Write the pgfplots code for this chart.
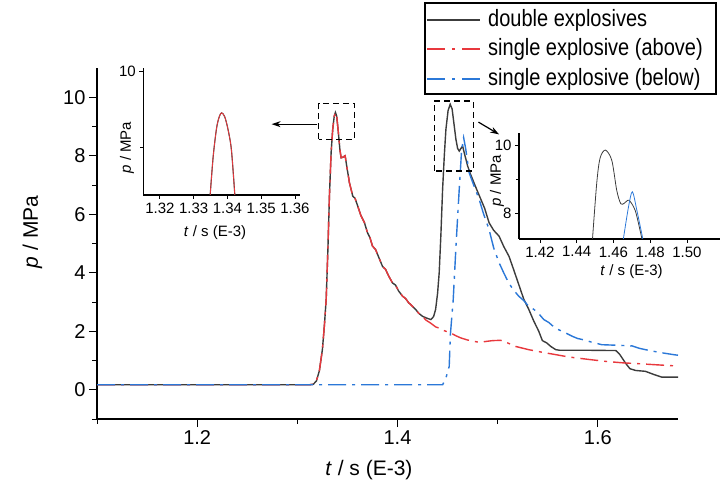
\documentclass[border=0pt]{standalone}
\usepackage{fontspec}
\setmainfont{Liberation Sans}
\usepackage{graphicx}
\usepackage{pgfplots}
\pgfplotsset{compat=1.18}
\usetikzlibrary{arrows.meta}
\definecolor{cblack}{RGB}{60,60,60}
\definecolor{cred}{RGB}{232,56,61}
\definecolor{cblue}{RGB}{43,120,216}
\pgfplotstableread{
x y
1.100 0.17
1.250 0.17
1.312 0.17
1.316 0.19
1.319 0.30
1.322 0.65
1.325 1.37
1.327 2.2
1.3288 3.1
1.3305 4.8
1.332 6.6
1.3337 8.1
1.3353 8.9
1.3368 9.35
1.338 9.48
1.3393 9.35
1.3408 8.85
1.3425 8.2
1.3437 7.93
1.3455 7.95
1.3477 8.0
1.3495 7.6
1.352 7.08
1.3553 6.62
1.3575 6.55
1.3603 6.28
1.3635 5.95
1.367 5.71
1.370 5.37
1.3725 5.2
1.375 4.91
1.378 4.8
1.381 4.55
1.385 4.22
1.388 4.12
1.391 3.9
1.395 3.65
1.398 3.58
1.401 3.38
1.405 3.2
1.408 3.12
1.411 2.98
1.415 2.85
1.418 2.75
1.421 2.62
1.425 2.51
1.429 2.45
1.4333 2.40
1.436 2.5
1.438 2.74
1.440 3.3
1.4416 4.0
1.4433 5.3
1.445 6.85
1.4467 8.0
1.4483 8.9
1.4505 9.55
1.4526 9.76
1.4545 9.6
1.4565 9.05
1.4583 8.56
1.4600 8.25
1.4616 8.16
1.4633 8.25
1.465 8.33
1.467 8.05
1.470 7.65
1.4725 7.4
1.475 7.19
1.479 6.85
1.4832 6.51
1.487 6.2
1.4914 5.71
1.496 5.45
1.5014 5.25
1.506 4.9
1.5113 4.56
1.516 4.1
1.521 3.6
1.526 3.1
1.531 2.75
1.536 2.35
1.541 2.0
1.5446 1.68
1.549 1.6
1.553 1.48
1.558 1.37
1.562 1.35
1.590 1.35
1.618 1.34
1.622 1.2
1.6276 0.91
1.632 0.72
1.6376 0.66
1.6475 0.63
1.656 0.52
1.664 0.43
1.68 0.43
}\doubledata
\pgfplotstableread{
x y
1.100 0.17
1.250 0.17
1.312 0.17
1.316 0.19
1.319 0.30
1.322 0.65
1.325 1.37
1.327 2.2
1.3288 3.1
1.3305 4.8
1.332 6.6
1.3337 8.1
1.3353 8.9
1.3368 9.35
1.338 9.48
1.3393 9.35
1.3408 8.85
1.3425 8.2
1.3437 7.93
1.3455 7.95
1.3477 8.0
1.3495 7.6
1.352 7.08
1.3553 6.62
1.3575 6.55
1.3603 6.28
1.3635 5.95
1.367 5.71
1.370 5.37
1.3725 5.2
1.375 4.91
1.378 4.8
1.381 4.55
1.385 4.22
1.388 4.12
1.391 3.9
1.395 3.65
1.398 3.58
1.401 3.38
1.405 3.2
1.408 3.12
1.411 2.98
1.415 2.85
1.418 2.75
1.421 2.62
1.425 2.51
1.4284 2.38
1.433 2.28
1.438 2.15
1.442 2.1
1.4465 2.02
1.4533 1.94
1.458 1.85
1.4633 1.77
1.47 1.7
1.476 1.66
1.4815 1.62
1.488 1.65
1.495 1.68
1.503 1.69
1.51 1.6
1.518 1.48
1.525 1.42
1.531 1.37
1.5446 1.28
1.558 1.2
1.571 1.12
1.59 1.04
1.6077 0.97
1.625 0.92
1.641 0.89
1.66 0.85
1.68 0.81
}\abovedata
\pgfplotstableread{
x y
1.100 0.17
1.445 0.17
1.4483 0.40
1.4516 0.80
1.4528 1.9
1.4556 3.08
1.4585 5.0
1.4616 6.85
1.464 8.2
1.466 8.62
1.468 8.25
1.4715 7.42
1.476 7.0
1.4815 6.51
1.486 6.0
1.4914 5.48
1.496 4.85
1.5014 4.34
1.506 4.0
1.511 3.65
1.516 3.4
1.521 3.2
1.526 3.05
1.531 2.85
1.536 2.75
1.541 2.6
1.546 2.4
1.551 2.3
1.556 2.15
1.561 2.05
1.568 1.94
1.575 1.82
1.58 1.75
1.587 1.7
1.5943 1.62
1.604 1.54
1.612 1.53
1.62 1.52
1.634 1.5
1.641 1.42
1.6475 1.37
1.6607 1.28
1.6757 1.20
1.68 1.18
}\belowdata
\pgfplotstableread{
x y
1.3349 8.38
1.3358 8.89
1.3368 9.26
1.3376 9.41
1.3383 9.46
1.3392 9.41
1.3402 9.24
1.3412 8.97
1.3422 8.38
}\insetonedata
\pgfplotstableread{
x y
1.4486 7.25
1.4509 8.88
1.4527 9.61
1.4556 9.85
1.4591 9.55
1.4618 8.67
1.4640 8.28
1.4660 8.30
1.4685 8.38
1.4718 8.09
1.4745 7.50
1.4755 7.25
}\insettwoblack
\pgfplotstableread{
x y
1.4654 7.25
1.4682 8.19
1.4703 8.63
1.4727 8.10
1.4760 7.25
}\insettwoblue
\begin{document}
\begin{tikzpicture}
\useasboundingbox (0pt,0pt) rectangle (728pt,485pt);
\begin{axis}[
  at={(97pt,66pt)}, anchor=south west, scale only axis,
  width=581pt, height=351pt,
  xmin=1.1, xmax=1.68, ymin=-1, ymax=11,
  axis lines=left, axis line style={-, line width=1.2pt, black},
  tick align=outside, major tick length=8pt, minor tick length=4.5pt,
  every tick/.style={black, line width=1pt},
  xtick={1.2,1.4,1.6}, xticklabels={1.2,1.4,1.6}, minor xtick={1.1,1.3,1.5},
  ytick={0,2,4,6,8,10}, yticklabels={0,2,4,6,8,10}, minor ytick={-1,1,3,5,7,9},
  tick label style={font=\fontsize{20}{24}\selectfont},
  /pgf/number format/assume math mode=true,
  xlabel={\textit{t} / s (E-3)}, ylabel={\textit{p} / MPa},
  label style={font=\fontsize{21}{25}\selectfont},
  xlabel style={at={(axis description cs:0.468,-0.145)}, anchor=center},
  ylabel style={at={(axis description cs:-0.111,0.533)}, anchor=center},
]
\addplot[color=cblack, line width=1.4pt] table[x=x,y=y] {\doubledata};
\addplot[color=cred, line width=1.4pt, dash pattern=on 18pt off 6pt on 3pt off 6pt] table[x=x,y=y] {\abovedata};
\addplot[color=cblue, line width=1.4pt, dash pattern=on 18pt off 6pt on 3pt off 6pt] table[x=x,y=y] {\belowdata};
\draw[black, line width=1.2pt, dash pattern=on 6pt off 4pt] (axis cs:1.3214,8.56) rectangle (axis cs:1.357,9.79);
\draw[black, line width=1.2pt, dash pattern=on 6pt off 4pt] (axis cs:1.4367,7.48) rectangle (axis cs:1.4755,9.87);
\draw[black, line width=1.2pt, -{Stealth[length=9pt,width=6pt]}] (axis cs:1.3201,9.08) -- (axis cs:1.2743,9.08);
\draw[black, line width=1.2pt, -{Stealth[length=9pt,width=6pt]}] (axis cs:1.4808,9.15) -- (axis cs:1.5014,8.73);
\end{axis}
% legend box
\draw[black, line width=1.2pt] (425pt,482pt) rectangle (716pt,391pt);
\draw[cblack, line width=1.6pt] (427pt,465pt) -- (480pt,465pt);
\draw[cred, line width=1.6pt, dash pattern=on 18pt off 7pt on 3pt off 7pt] (427pt,436pt) -- (480pt,436pt);
\draw[cblue, line width=1.6pt, dash pattern=on 18pt off 7pt on 3pt off 7pt] (427pt,406pt) -- (480pt,406pt);
\node[anchor=west, inner sep=0pt, font=\fontsize{20}{22}\selectfont] at (488pt,465pt) {\scalebox{1}[1.18]{double explosives}};
\node[anchor=west, inner sep=0pt, font=\fontsize{20}{22}\selectfont] at (488pt,436pt) {\scalebox{1}[1.18]{single explosive (above)}};
\node[anchor=west, inner sep=0pt, font=\fontsize{20}{22}\selectfont] at (488pt,406pt) {\scalebox{1}[1.18]{single explosive (below)}};
\begin{axis}[
  at={(143.3pt,290pt)}, anchor=south west, scale only axis,
  width=156.7pt, height=127pt,
  xmin=1.3151, xmax=1.3615, ymin=8.38, ymax=10.05,
  axis lines=left, axis line style={-, line width=1.2pt, black},
  tick align=outside, major tick length=4pt, minor tick length=3pt,
  every tick/.style={black, line width=0.8pt},
  xtick={1.32,1.33,1.34,1.35,1.36}, xticklabels={1.32,1.33,1.34,1.35,1.36},
  ytick={10}, yticklabels={10}, minor ytick={9},
  tick label style={font=\fontsize{15}{18}\selectfont},
  /pgf/number format/assume math mode=true,
  xlabel={\textit{t} / s (E-3)}, ylabel={\textit{p} / MPa},
  label style={font=\fontsize{15}{18}\selectfont},
  xlabel style={at={(axis description cs:0.458,-0.297)}, anchor=center},
  ylabel style={at={(axis description cs:-0.104,0.374)}, anchor=center},
]
\addplot[draw=cblack, line width=1.1pt, smooth] table[x=x,y=y] {\insetonedata};
\addplot[draw=cred, line width=0.8pt, smooth] table[x=x,y=y] {\insetonedata};
\end{axis}
\begin{axis}[
  at={(519pt,246pt)}, anchor=south west, scale only axis,
  width=201pt, height=105.7pt,
  xmin=1.4086, xmax=1.518, ymin=7.25, ymax=10.34,
  axis lines=left, axis line style={-, line width=1.2pt, black},
  tick align=outside, major tick length=4pt, minor tick length=3pt,
  every tick/.style={black, line width=0.8pt},
  xtick={1.42,1.44,1.46,1.48,1.50}, xticklabels={1.42,1.44,1.46,1.48,1.50},
  ytick={8,10}, yticklabels={8,10}, minor ytick={9},
  tick label style={font=\fontsize{15}{18}\selectfont},
  /pgf/number format/assume math mode=true,
  xlabel={\textit{t} / s (E-3)}, ylabel={\textit{p} / MPa},
  label style={font=\fontsize{15}{18}\selectfont},
  xlabel style={at={(axis description cs:0.56,-0.312)}, anchor=center},
  ylabel style={at={(axis description cs:-0.109,0.549)}, anchor=center},
]
\addplot[draw=cblack, line width=0.8pt, smooth] table[x=x,y=y] {\insettwoblack};
\addplot[draw=cblue, line width=0.8pt, smooth] table[x=x,y=y] {\insettwoblue};
\end{axis}
\end{tikzpicture}
\end{document}
